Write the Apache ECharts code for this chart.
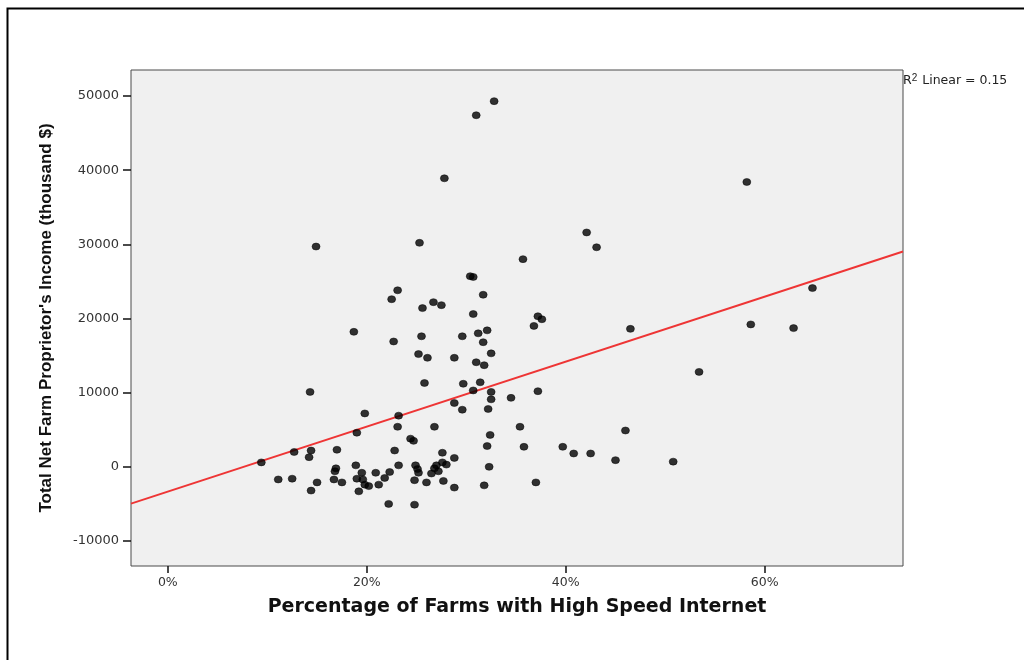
<!DOCTYPE html>
<html>
<head>
<meta charset="utf-8">
<title>High Speed Internet vs Farm Income</title>
<script src="https://cdn.jsdelivr.net/npm/echarts@6/dist/echarts.min.js"></script>
<style>
  html, body { margin: 0; padding: 0; background: #fff; }
  #main { width: 1024px; height: 660px; }
</style>
</head>
<body>
<div id="main"></div>
<script>
// percentage of farms with high speed internet (%)
var pctInternet = [
  32.8, 31.0, 27.8, 58.2, 14.9, 25.3, 42.1, 43.1, 35.7, 30.4,
  30.7, 23.1, 22.5, 31.7, 26.7, 27.5, 25.6, 30.7, 37.2, 37.6,
  36.8, 22.7, 25.5, 29.6, 31.2, 32.1, 31.7, 25.2, 26.1, 28.8,
  32.5, 31.0, 31.8, 25.8, 29.7, 31.4, 30.7, 32.5, 32.5, 34.5,
  37.2, 28.8, 29.6, 32.2, 26.8, 35.4, 23.1, 24.4, 24.7, 32.4,
  32.1, 35.8, 39.7, 40.8, 42.5, 27.6, 28.8, 45.0, 50.8, 46.0,
  53.4, 46.5, 58.6, 62.9, 64.8, 23.2, 24.9, 25.1, 25.2, 27.0,
  26.8, 27.2, 26.5, 27.6, 28.0, 32.3, 24.8, 26.0, 27.7, 28.8,
  31.8, 37.0, 24.8, 22.2, 22.8, 23.2, 19.8, 19.0, 18.7, 14.3,
  9.4, 12.7, 14.4, 14.2, 17.0, 11.1, 12.5, 15.0, 14.4, 16.7,
  17.5, 16.9, 16.8, 18.9, 19.5, 19.0, 19.6, 19.8, 20.2, 19.2,
  20.9, 21.2, 21.8, 22.3
];
// total net farm proprietor's income (thousand $)
var netIncome = [
  49300, 47400, 38900, 38400, 29700, 30200, 31600, 29600, 28000, 25700,
  25600, 23800, 22600, 23200, 22200, 21800, 21400, 20600, 20300, 19900,
  19000, 16900, 17600, 17600, 18000, 18400, 16800, 15200, 14700, 14700,
  15300, 14100, 13700, 11300, 11200, 11400, 10300, 10100, 9100, 9300,
  10200, 8600, 7700, 7800, 5400, 5400, 5400, 3800, 3500, 4300,
  2800, 2700, 2700, 1800, 1800, 1900, 1200, 900, 700, 4900,
  12800, 18600, 19200, 18700, 24100, 200, 200, -300, -800, 200,
  -200, -600, -900, 600, 300, 0, -1800, -2100, -1900, -2800,
  -2500, -2100, -5100, -5000, 2200, 6900, 7200, 4600, 18200, 10100,
  600, 2000, 2200, 1300, 2300, -1700, -1600, -2100, -3200, -1700,
  -2100, -200, -600, 200, -800, -1600, -1700, -2400, -2600, -3300,
  -800, -2400, -1500, -700
];
// fit line ends
var fitX = [-3.7, 73.9];
var fitY = [-4960, 29030];

var xTicks = [0, 20, 40, 60];
var yTicks = [-10000, 0, 10000, 20000, 30000, 40000, 50000];

var points = pctInternet.map(function (v, i) { return [v, netIncome[i]]; });
var fitLine = fitX.map(function (v, i) { return [v, fitY[i]]; });

var chart = echarts.init(document.getElementById('main'), null, { renderer: 'canvas' });

var option = {
  backgroundColor: '#ffffff',
  animation: false,
  grid: { left: 131, top: 70, right: 121, bottom: 94, show: true, backgroundColor: '#f0f0f0', borderColor: '#4a4a4a', borderWidth: 1 },
  xAxis: {
    type: 'value',
    min: -3.7,
    max: 73.9,
    name: 'Percentage of Farms with High Speed Internet',
    nameLocation: 'middle',
    nameGap: 32,
    nameTextStyle: { fontFamily: 'DejaVu Sans, sans-serif', fontWeight: 'bold', fontSize: 19, color: '#111' },
    axisLine: { show: false, onZero: false },
    splitLine: { show: false },
    axisTick: { show: true, length: 7, lineStyle: { color: '#111', width: 1.5 }, customValues: xTicks },
    axisLabel: { customValues: xTicks, formatter: '{value}%', fontFamily: 'DejaVu Sans, sans-serif', fontSize: 12.5, color: '#333', margin: 10 }
  },
  yAxis: {
    type: 'value',
    min: -13370,
    max: 53500,
    name: "Total Net Farm Proprietor's Income (thousand $)",
    nameLocation: 'middle',
    nameGap: 76,
    nameTextStyle: { fontFamily: 'Liberation Sans, Arial, sans-serif', fontWeight: 'bold', fontSize: 17, color: '#111' },
    axisLine: { show: false, onZero: false },
    splitLine: { show: false },
    axisTick: { show: true, length: 8, lineStyle: { color: '#111', width: 1.5 }, customValues: yTicks },
    axisLabel: {
      customValues: yTicks,
      formatter: function (v) { return String(v); },
      fontFamily: 'DejaVu Sans, sans-serif', fontSize: 13, color: '#333', margin: 12
    }
  },
  series: [
    {
      name: 'Fit',
      type: 'line',
      data: fitLine,
      symbol: 'none',
      silent: true,
      clip: true,
      lineStyle: { color: '#ee3535', width: 2 },
      z: 2
    },
    {
      name: 'Counties',
      type: 'scatter',
      data: points,
      symbol: 'circle',
      symbolSize: [8, 7],
      itemStyle: { color: '#000', borderColor: '#000', borderWidth: 0.6 },
      z: 3
    }
  ],
  graphic: [
    {
      type: 'rect',
      left: 5, top: 6,
      shape: { width: 1200, height: 1000 },
      style: { fill: 'none', stroke: '#000', lineWidth: 2 }
    },
    {
      type: 'text',
      left: 903, top: 73,
      style: {
        text: 'R{sup|2} Linear = 0.15',
        fontFamily: 'DejaVu Sans, sans-serif',
        fontSize: 12.5,
        fill: '#222',
        rich: { sup: { fontSize: 10, verticalAlign: 'top', padding: [0, 1, 5, 0] } }
      }
    }
  ]
};

chart.setOption(option);
</script>
</body>
</html>
